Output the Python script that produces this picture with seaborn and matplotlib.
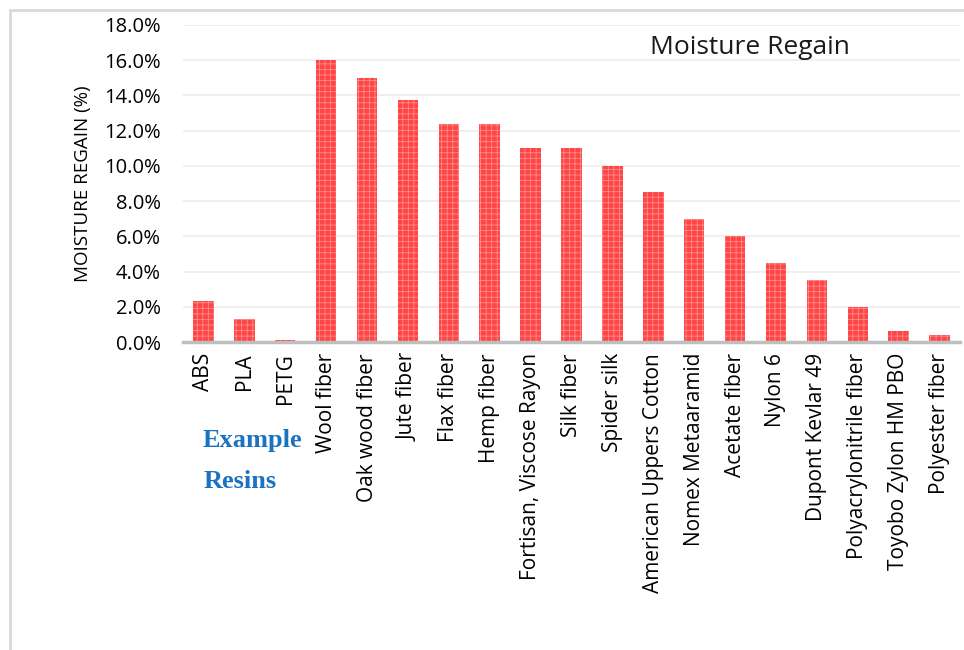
import matplotlib
matplotlib.use("Agg")
import matplotlib.pyplot as plt
from matplotlib.patches import Rectangle
from matplotlib.ticker import FuncFormatter
import seaborn as sns
import pandas as pd

materials = [
    "ABS", "PLA", "PETG", "Wool fiber", "Oak wood fiber", "Jute fiber",
    "Flax fiber", "Hemp fiber", "Fortisan, Viscose Rayon", "Silk fiber",
    "Spider silk", "American Uppers Cotton", "Nomex Metaaramid",
    "Acetate fiber", "Nylon 6", "Dupont Kevlar 49", "Polyacrylonitrile fiber",
    "Toyobo Zylon HM PBO", "Polyester fiber",
]
regain_pct = [2.3, 1.3, 0.1, 16.0, 15.0, 13.75, 12.4, 12.4, 11.0, 11.0,
              10.0, 8.5, 7.0, 6.0, 4.5, 3.5, 2.0, 0.6, 0.4]
y_ticks = [0, 2, 4, 6, 8, 10, 12, 14, 16, 18]

df = pd.DataFrame({"material": materials, "regain": regain_pct})

sns.set_theme(style="white")
plt.rcParams["font.family"] = ["Open Sans", "DejaVu Sans"]
plt.rcParams["hatch.color"] = "#ff8c8c"
plt.rcParams["hatch.linewidth"] = 0.6

fig = plt.figure(figsize=(9.64, 6.5), dpi=100)
ax = fig.add_axes([183 / 964, 1 - 342 / 650, (960 - 183) / 964, (342 - 25) / 650])

sns.barplot(data=df, x="material", y="regain", ax=ax, color="#ff4545",
            saturation=1, width=0.5, linewidth=0, hatch="+++")
for bar in ax.patches:
    bar.set_edgecolor("#ff8c8c")
    bar.set_linewidth(0)

ax.set_ylim(0, 18)
ax.set_xlim(-0.5, len(materials) - 0.5)
ax.set_yticks(y_ticks)
ax.yaxis.set_major_formatter(FuncFormatter(lambda v, p: f"{v:.1f}%"))
ax.grid(axis="y", color="#ececec", linewidth=1.2)
ax.set_axisbelow(True)
for side in ["top", "right", "left"]:
    ax.spines[side].set_visible(False)
ax.spines["bottom"].set_color("#bfbfbf")
ax.spines["bottom"].set_linewidth(2.5)
ax.tick_params(axis="y", length=0, labelsize=14.5, pad=16, colors="#000000")
ax.tick_params(axis="x", length=0, labelsize=15, pad=8, colors="#000000")
plt.setp(ax.get_xticklabels(), rotation=90)
ax.set_xlabel("")
ax.set_ylabel("MOISTURE REGAIN (%)", fontsize=13.5, labelpad=9, color="#000000")

ax.text(0.73, 0.93, "Moisture Regain", transform=ax.transAxes,
        fontsize=19, color="#1a1a1a", va="center", ha="center")

serif = ["Liberation Serif", "DejaVu Serif"]
fig.text(252 / 964, 1 - 440 / 650, "Example", fontsize=19, fontweight="bold",
         family=serif, color="#1a72c0", ha="center", va="center")
fig.text(240 / 964, 1 - 482 / 650, "Resins", fontsize=19, fontweight="bold",
         family=serif, color="#1a72c0", ha="center", va="center")

fig.patches.append(Rectangle((10 / 964, -0.1), 1.2, 1 - 10 / 650 + 0.1,
                             transform=fig.transFigure, fill=False,
                             edgecolor="#d9d9d9", linewidth=2))

fig.savefig("out.png", dpi=100)
